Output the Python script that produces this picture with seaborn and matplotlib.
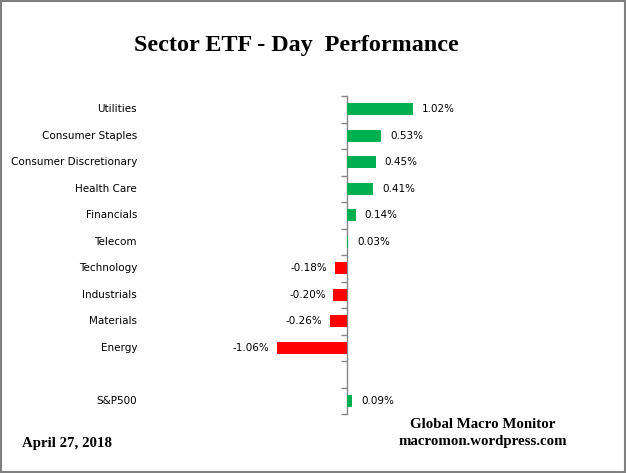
import matplotlib
matplotlib.use("Agg")
import matplotlib.pyplot as plt
import matplotlib.transforms as mtransforms
from matplotlib.patches import Rectangle
import numpy as np
import pandas as pd
import seaborn as sns

sectors = ["Utilities", "Consumer Staples", "Consumer Discretionary", "Health Care",
           "Financials", "Telecom", "Technology", "Industrials", "Materials", "Energy",
           "S&P500"]
values = [1.02, 0.53, 0.45, 0.41, 0.14, 0.03, -0.18, -0.20, -0.26, -1.06, 0.09]
order = sectors[:10] + [" "] + ["S&P500"]
title = "Sector ETF - Day  Performance"
date_text = "April 27, 2018"
source_lines = ["Global Macro Monitor", "macromon.wordpress.com"]

GREEN = "#00B050"
RED = "#FF0000"
AXIS_GRAY = "#868686"

df = pd.DataFrame({"sector": sectors, "value": values})
df["sign"] = np.where(df["value"] >= 0, "pos", "neg")

sns.set_style("white")
plt.rcParams["font.family"] = ["DejaVu Sans"]
plt.rcParams["text.color"] = "black"

W, H = 626, 473
fig = plt.figure(figsize=(W / 100, H / 100), dpi=100)
left_px, right_px, top_px, bottom_px = 137, 600, 96, 414
ax = fig.add_axes([left_px / W, 1 - bottom_px / H, (right_px - left_px) / W, (bottom_px - top_px) / H])

sns.barplot(data=df, x="value", y="sector", hue="sign", order=order,
            palette={"pos": GREEN, "neg": RED}, dodge=False, width=0.46,
            errorbar=None, legend=False, ax=ax, saturation=1, zorder=3,
            linewidth=0, edgecolor="none")

zero_px = 346.5
ppu = 65.2
ax.set_xlim(-(zero_px - left_px) / ppu, (right_px - zero_px) / ppu)
ax.set_ylim(len(order) - 0.5, -0.5)

for s in ["top", "right", "bottom"]:
    ax.spines[s].set_visible(False)
ax.spines["left"].set_position(("data", 0))
ax.spines["left"].set_color(AXIS_GRAY)
ax.spines["left"].set_linewidth(1.0)
ax.spines["left"].set_zorder(2)
ax.set_yticks(np.arange(-0.5, len(order) + 0.5, 1.0))
ax.set_yticklabels([])
ax.tick_params(axis="y", direction="out", length=4, width=1.0, color=AXIS_GRAY, left=True)
ax.set_xticks([])
ax.set_xlabel("")
ax.set_ylabel("")

blend = mtransforms.blended_transform_factory(ax.transAxes, ax.transData)
for i, name in enumerate(order):
    if name.strip():
        ax.text(0, i, name, transform=blend, ha="right", va="center", fontsize=7.5, color="black")

for name, v in zip(sectors, values):
    y = order.index(name)
    off = 6.5 if v >= 0 else -5.5
    ax.annotate(f"{v:.2f}%", xy=(v, y), xytext=(off, 0), textcoords="offset points",
                ha="left" if v >= 0 else "right", va="center", fontsize=7.5, color="black")

serif = ["Liberation Serif", "DejaVu Serif"]
fig.text(296 / W, 1 - 51.5 / H, title, ha="center", va="baseline", fontsize=17.4,
         fontweight="bold", family=serif, color="black")
fig.text(22 / W, 1 - 446.5 / H, date_text, ha="left", va="baseline", fontsize=10.7,
         fontweight="bold", family=serif, color="black")
fig.text(483 / W, 1 - 428 / H, source_lines[0], ha="center", va="baseline", fontsize=10.7,
         fontweight="bold", family=serif, color="black")
fig.text(483 / W, 1 - 445 / H, source_lines[1], ha="center", va="baseline", fontsize=10.7,
         fontweight="bold", family=serif, color="black")

fig.patches.append(Rectangle((0.001, 0.002), 0.997, 0.996, transform=fig.transFigure,
                             fill=False, edgecolor="#808080", linewidth=1.5))

fig.savefig("out.png", dpi=100)
